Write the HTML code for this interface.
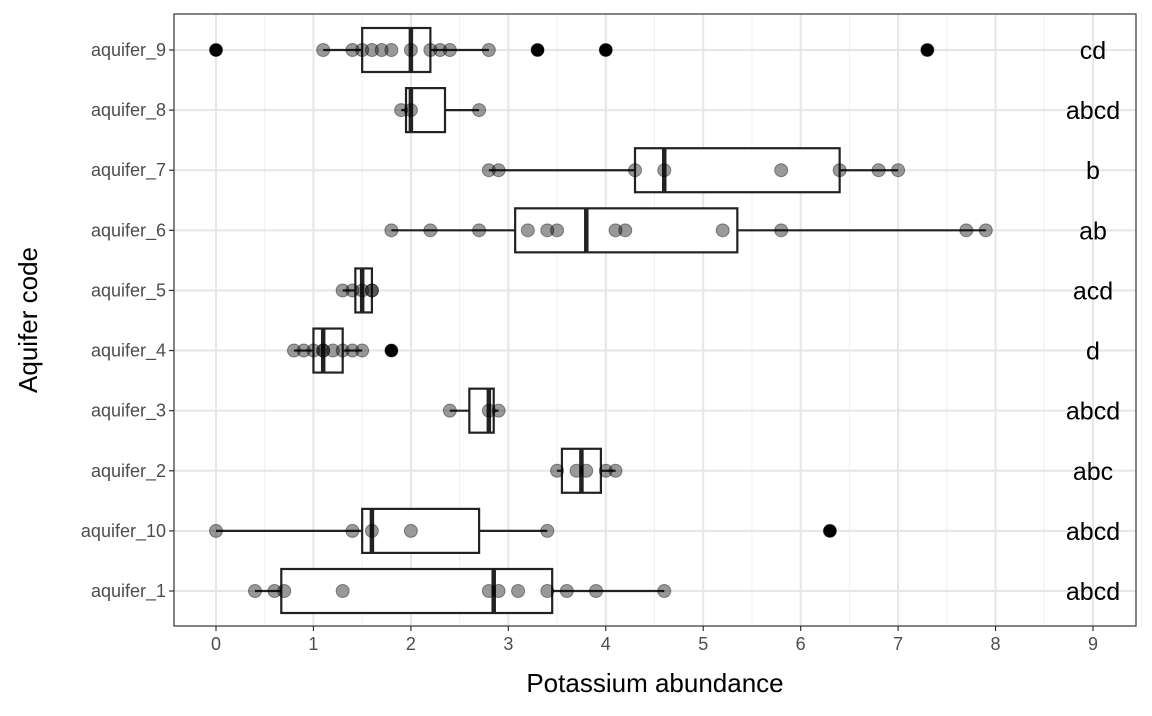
<!DOCTYPE html>
<html><head><meta charset="utf-8"><style>
body{margin:0;background:#fff;width:1152px;height:711px;overflow:hidden}
svg text{font-family:"Liberation Sans",sans-serif}
</style></head><body>
<svg id="chart" width="1152" height="711" xmlns="http://www.w3.org/2000/svg"></svg>
<script>
const categories=["aquifer_9","aquifer_8","aquifer_7","aquifer_6","aquifer_5","aquifer_4","aquifer_3","aquifer_2","aquifer_10","aquifer_1"];
const boxStats=[[1.1,1.5,2.0,2.2,2.8],[1.9,1.95,2.0,2.35,2.7],[2.8,4.3,4.6,6.4,7.0],[1.8,3.07,3.8,5.35,7.9],[1.3,1.43,1.5,1.6,1.6],[0.8,1.0,1.1,1.3,1.5],[2.4,2.6,2.8,2.85,2.9],[3.5,3.55,3.75,3.95,4.1],[0,1.5,1.6,2.7,3.4],[0.4,0.67,2.85,3.45,4.6]];
const outliers=[[0,3.3,4.0,7.3],[],[],[],[],[1.8],[],[],[6.3],[]];
const points=[[0,1.1,1.4,1.5,1.6,1.7,1.8,2.0,2.2,2.3,2.4,2.8,3.3,4.0,7.3],[1.9,2.0,2.7],[2.8,2.9,4.3,4.6,5.8,6.4,6.8,7.0],[1.8,2.2,2.7,3.2,3.4,3.5,4.1,4.2,5.2,5.8,7.7,7.9],[1.3,1.4,1.5,1.6,1.6],[0.8,0.9,1.0,1.1,1.1,1.2,1.3,1.4,1.5,1.8],[2.4,2.8,2.9],[3.5,3.7,3.8,4.0,4.1],[0,1.4,1.6,2.0,3.4,6.3],[0.4,0.6,0.7,1.3,2.8,2.9,3.1,3.4,3.6,3.9,4.6]];
const letters=["cd","abcd","b","ab","acd","d","abcd","abc","abcd","abcd"];
const xTicks=[0,1,2,3,4,5,6,7,8,9];
const NS="http://www.w3.org/2000/svg",svg=document.getElementById("chart");
const L=174,R=1136,T=14,B=626;
const x=v=>216+v*(1093-216)/9;
const y=i=>50+i*(591-50)/9;
function el(t,a,p){const e=document.createElementNS(NS,t);for(const k in a)e.setAttribute(k,a[k]);(p||svg).appendChild(e);return e;}
for(let v=0.5;v<9.6;v+=1){const g=el("line",{x1:x(v),x2:x(v),y1:T,y2:B,stroke:"#f0f0f0","stroke-width":1});

}
xTicks.forEach(v=>{const g=el("line",{x1:x(v),x2:x(v),y1:T,y2:B,stroke:"#e6e6e6","stroke-width":2});


const t=el("line",{x1:x(v),x2:x(v),y1:B,y2:B+5,stroke:"#333","stroke-width":1.2});


const l=el("text",{x:x(v),y:B+24,"text-anchor":"middle","font-size":18,fill:"#4d4d4d"});l.textContent=v;

});
categories.forEach((c,i)=>{const g=el("line",{x1:L,x2:R,y1:y(i),y2:y(i),stroke:"#e6e6e6","stroke-width":2});


const t=el("line",{x1:L-5,x2:L,y1:y(i),y2:y(i),stroke:"#333","stroke-width":1.2});


const l=el("text",{x:L-8,y:y(i)+6,"text-anchor":"end","font-size":18,fill:"#4d4d4d"});l.textContent=c;

});
categories.forEach((c,i)=>{const s=boxStats[i],yc=y(i),h=22;
const g=el("g",{});


el("line",{x1:x(s[0]),x2:x(s[1]),y1:yc,y2:yc,stroke:"#222","stroke-width":2.2},g);
el("line",{x1:x(s[3]),x2:x(s[4]),y1:yc,y2:yc,stroke:"#222","stroke-width":2.2},g);
el("rect",{x:x(s[1]),y:yc-h,width:x(s[3])-x(s[1]),height:2*h,fill:"#fff",stroke:"#222","stroke-width":2.2},g);
el("line",{x1:x(s[2]),x2:x(s[2]),y1:yc-h,y2:yc+h,stroke:"#222","stroke-width":4.5},g);
outliers[i].forEach(v=>{const o=el("circle",{cx:x(v),cy:yc,r:6.5,fill:"#000"});

});
points[i].forEach(v=>{const p=el("circle",{cx:x(v),cy:yc,r:6.5,fill:"#000","fill-opacity":0.4,stroke:"#000","stroke-opacity":0.4,"stroke-width":1});

});
const t=el("text",{x:1093,y:yc+9,"text-anchor":"middle","font-size":25,fill:"#000"});t.textContent=letters[i];

});
const fr=el("rect",{x:L,y:T,width:R-L,height:B-T,fill:"none",stroke:"#333","stroke-width":1.2});


const xt=el("text",{x:655,y:692,"text-anchor":"middle","font-size":26,fill:"#000"});xt.textContent="Potassium abundance";


const yt=el("text",{x:0,y:0,"text-anchor":"middle","font-size":26,fill:"#000",transform:"translate(37,320) rotate(-90)"});yt.textContent="Aquifer code";


</script>
</body></html>
